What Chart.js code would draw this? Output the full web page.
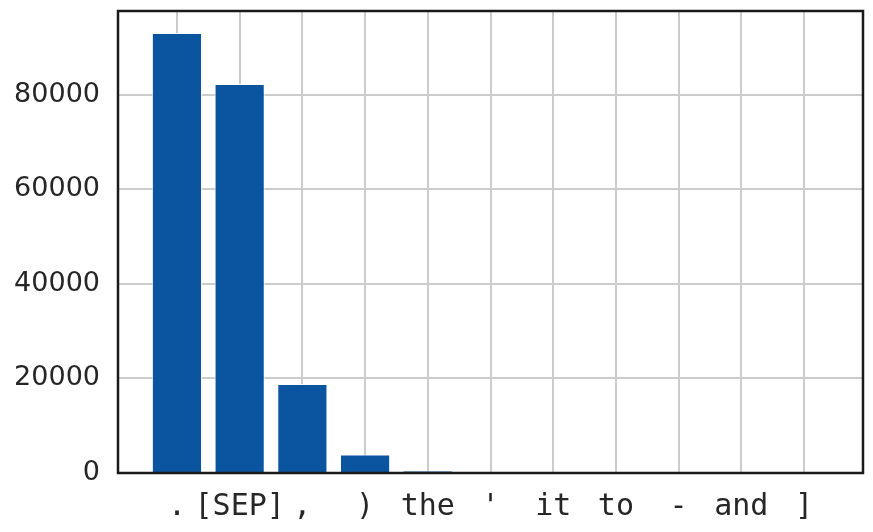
<!DOCTYPE html>
<html>
<head>
<meta charset="utf-8">
<script src="https://cdn.jsdelivr.net/npm/chart.js@4/dist/chart.umd.min.js"></script>
<style>
  body { margin: 0; background: #fff; }
  canvas { display: block; }
</style>
</head>
<body>
<canvas id="chart" width="873" height="532"></canvas>
<script>
// token counts
const tokens = ['.', '[SEP]', ',', ')', 'the', "'", 'it', 'to', '-', 'and', ']'];
const counts = [93000, 82200, 18800, 3900, 450, 60, 40, 30, 25, 20, 15];
const yTicks = [0, 20000, 40000, 60000, 80000];

const textColor = '#262626';
const gridColor = '#cccccc';

// draws the four spines around the plot area
const framePlugin = {
    id: 'frame',
    afterDraw(chart) {
        const { ctx, chartArea: a } = chart;
        ctx.save();
        ctx.strokeStyle = '#1a1a1a';
        ctx.lineWidth = 2.5;
        ctx.strokeRect(a.left, a.top, a.right - a.left, a.bottom - a.top);
        ctx.restore();
    }
};

const ctx = document.getElementById('chart');
new Chart(ctx, {
    type: 'bar',
    data: {
        datasets: [{
            data: counts.map((v, i) => ({ x: i, y: v })),
            backgroundColor: '#0b54a0',
            borderColor: 'rgba(255,255,255,0.85)',
            borderWidth: 1,
            barPercentage: 0.8,
            categoryPercentage: 1.0
        }]
    },
    options: {
        responsive: false,
        animation: false,
        layout: { padding: { top: 11, right: 10, left: 0, bottom: 0 } },
        plugins: {
            legend: { display: false },
            tooltip: { enabled: false }
        },
        scales: {
            x: {
                type: 'linear',
                offset: false,
                min: -0.94,
                max: 10.94,
                afterBuildTicks: (scale) => {
                    scale.ticks = tokens.map((t, i) => ({ value: i }));
                },
                afterFit: (scale) => {
                    scale.height = 59;
                    scale.paddingLeft = 0;
                    scale.paddingRight = 0;
                },
                ticks: {
                    autoSkip: false,
                    maxRotation: 0,
                    padding: 16,
                    color: textColor,
                    font: { family: 'DejaVu Sans Mono', size: 30 },
                    callback: (v) => tokens[v]
                },
                grid: { offset: false, color: gridColor, lineWidth: 2, drawTicks: false },
                border: { display: false }
            },
            y: {
                min: 0,
                max: 97650,
                afterBuildTicks: (scale) => {
                    scale.ticks = yTicks.map(v => ({ value: v }));
                },
                afterFit: (scale) => {
                    scale.width = 118;
                    scale.paddingTop = 0;
                    scale.paddingBottom = 0;
                },
                ticks: {
                    padding: 18,
                    color: textColor,
                    font: { family: 'DejaVu Sans', size: 27 },
                    callback: (v) => String(v)
                },
                grid: { color: gridColor, lineWidth: 2, drawTicks: false },
                border: { display: false }
            }
        }
    },
    plugins: [framePlugin]
});
</script>
</body>
</html>
